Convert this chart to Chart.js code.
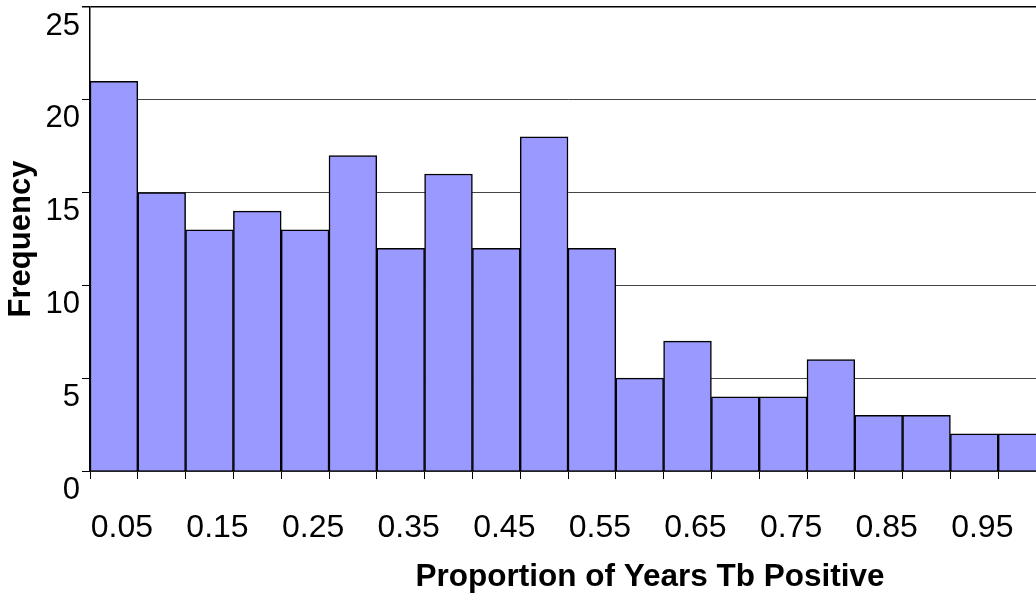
<!DOCTYPE html>
<html>
<head>
<meta charset="utf-8">
<script src="https://cdn.jsdelivr.net/npm/chart.js@4.4.1/dist/chart.umd.min.js"></script>
<style>
  html, body { margin: 0; padding: 0; background: #fff; overflow: hidden; }
  canvas { display: block; }
</style>
</head>
<body>
<canvas id="chart" width="1046" height="598" style="width:1046px;height:598px"></canvas>
<script>
// histogram bins (upper edge of each 0.05 bin) and counts
const binLabels = ["0.05", "0.10", "0.15", "0.20", "0.25", "0.30", "0.35", "0.40", "0.45", "0.50",
                   "0.55", "0.60", "0.65", "0.70", "0.75", "0.80", "0.85", "0.90", "0.95", "1.00"];
const frequencies = [21, 15, 13, 14, 13, 17, 12, 16, 12, 18, 12, 5, 7, 4, 4, 6, 3, 3, 2, 2];
const yMax = 25;
const yStep = 5;
const xTitle = "Proportion of Years Tb Positive";
const yTitle = "Frequency";

const fontFamily = "'Liberation Sans', Arial, sans-serif";

// x axis title sits right of the plot centre in the original, so draw it ourselves
const xTitlePlugin = {
    id: "xTitle",
    afterDraw(chart) {
        let ctx = chart.ctx;
        let area = chart.chartArea;
        ctx.save();
        ctx.font = "bold 31.5px " + fontFamily;
        ctx.fillStyle = "#000";
        ctx.textAlign = "center";
        ctx.textBaseline = "middle";
        ctx.fillText(xTitle, area.left + 560, chart.height - 21);
        ctx.restore();
    }
};

new Chart(document.getElementById("chart").getContext("2d"), {
    type: "bar",
    data: {
        labels: binLabels,
        datasets: [{
            data: frequencies,
            backgroundColor: "#9999ff",
            borderColor: "#000",
            borderWidth: 1.5,
            categoryPercentage: 1,
            barPercentage: 1
        }]
    },
    options: {
        responsive: false,
        animation: false,
        layout: { padding: { top: 7, left: 0, right: 0, bottom: 0 } },
        plugins: {
            legend: { display: false },
            tooltip: { enabled: false }
        },
        scales: {
            x: {
                afterFit: function (scale) {
                    scale.height = 127;
                    scale.paddingLeft = 0;
                    scale.paddingRight = 0;
                },
                grid: {
                    offset: true,
                    drawOnChartArea: false,
                    drawTicks: true,
                    tickLength: 8,
                    color: "#000"
                },
                border: { display: true, color: "#000", width: 1.5 },
                ticks: {
                    autoSkip: false,
                    maxRotation: 0,
                    padding: 30,
                    labelOffset: 8,
                    color: "#000",
                    font: { family: fontFamily, size: 32 },
                    callback: function (value, index) {
                        return index % 2 === 0 ? binLabels[index] : "";
                    }
                }
            },
            y: {
                min: 0,
                max: yMax,
                afterFit: function (scale) {
                    scale.width = 90;
                    scale.paddingTop = 0;
                    scale.paddingBottom = 0;
                },
                grid: {
                    color: function (c) { return c.tick && c.tick.value === yMax ? "#000" : "#444"; },
                    lineWidth: function (c) { return c.tick && c.tick.value === yMax ? 1.5 : 1; },
                    tickLength: 8,
                    tickColor: "#000"
                },
                border: { display: true, color: "#000", width: 1.5 },
                ticks: {
                    stepSize: yStep,
                    padding: 2,
                    labelOffset: 19,
                    color: "#000",
                    font: { family: fontFamily, size: 31 }
                },
                title: {
                    display: true,
                    text: yTitle,
                    color: "#000",
                    padding: { top: 3, bottom: 0 },
                    font: { family: fontFamily, size: 31, weight: "bold" }
                }
            }
        }
    },
    plugins: [xTitlePlugin]
});
</script>
</body>
</html>
